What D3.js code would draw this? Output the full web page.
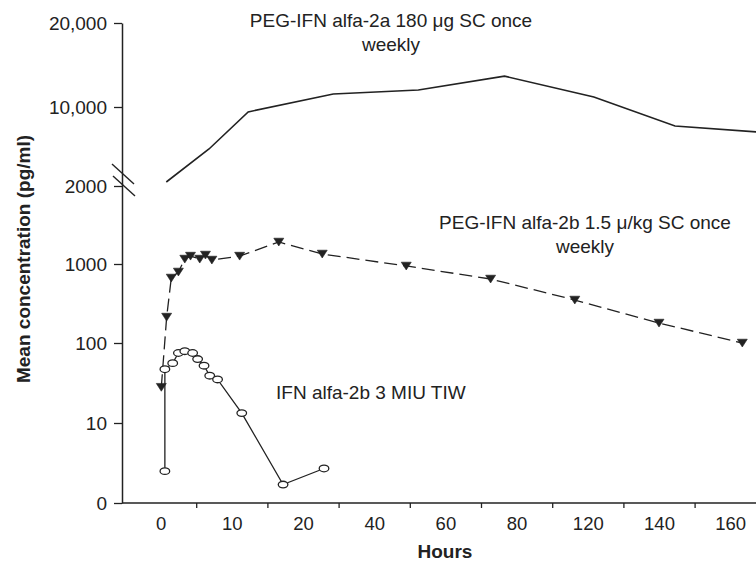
<!DOCTYPE html>
<html>
<head>
<meta charset="utf-8">
<script src="https://cdn.jsdelivr.net/npm/d3@7"></script>
<style>
body { margin: 0; background: #fff; }
text { font-family: "Liberation Sans", Arial, sans-serif; fill: #222; }
</style>
</head>
<body>
<script>
WIDTH = 756;
HEIGHT = 561;
INK = "#222";
AXIS_X = 122;
AXIS_Y = 503;

// x axis labels (evenly spaced, as printed)
var xTickHours = [0, 10, 20, 40, 60, 80, 120, 140, 160];

// broken log y axis
var yTickValues = [1, 10, 100, 1000, 2000, 10000, 20000];
var yTickLabels = ["0", "10", "100", "1000", "2000", "10,000", "20,000"];
var yTickPos = [503, 423, 343, 264, 186, 107, 23];

// PEG-IFN alfa-2a 180 µg SC once weekly
var peg2aHours = [0.8, 6.8, 12.3, 28.5, 52.4, 76.6, 121.7, 144.5, 168];
var peg2aConc  = [2170, 4250, 9050, 11130, 11500, 12900, 10860, 6790, 6000];

// PEG-IFN alfa-2b 1.5 µ/kg SC once weekly
var peg2bHours = [0.1, 0.85, 1.5, 2.5, 3.4, 4.2, 5.5, 6.3, 7.2, 11.1, 16.6, 25.4, 49, 72.7, 112.7, 140, 163.4];
var peg2bConc  = [28, 213, 665, 793, 1045, 1073, 1045, 1083, 1036, 1073, 1216, 1093, 944, 646, 350, 179, 100];

// IFN alfa-2b 3 MIU TIW
var ifnHours = [0.6, 0.6, 1.7, 2.5, 3.4, 4.5, 5.2, 6.1, 6.9, 8.0, 11.4, 17.2, 25.9];
var ifnConc  = [2.5, 47, 56, 75, 79, 75, 63, 52, 39, 35, 13.3, 1.7, 2.7];

var svg = d3.select("body").append("svg")
    .attr("width", WIDTH)
    .attr("height", HEIGHT);

var xBand = d3.scaleBand()
    .domain(xTickHours)
    .range([125, 125 + 71.2 * xTickHours.length]);

// piecewise scale so each printed label sits at its hour
var x = d3.scaleLinear()
    .domain(xTickHours)
    .range(xTickHours.map(h => xBand(h) + xBand.bandwidth() / 2));

var y = d3.scaleLog()
    .domain(yTickValues)
    .range(yTickPos);

// x axis
svg.append("line")
    .attr("x1", AXIS_X).attr("x2", WIDTH)
    .attr("y1", AXIS_Y).attr("y2", AXIS_Y)
    .attr("stroke", INK).attr("stroke-width", 1.5);

svg.append("g")
    .attr("transform", `translate(0,${AXIS_Y})`)
    .call(d3.axisBottom(x)
        .tickValues(d3.pairs(xTickHours, (a, b) => (a + b) / 2))
        .tickSize(5)
        .tickFormat(""))
    .call(g => g.select(".domain").remove())
    .call(g => g.selectAll("line").attr("stroke", INK).attr("stroke-width", 1.3));

svg.append("g")
    .attr("transform", `translate(0,${AXIS_Y})`)
    .call(d3.axisBottom(x).tickValues(xTickHours).tickSize(0).tickPadding(0))
    .call(g => g.select(".domain").remove())
    .call(g => g.selectAll("text")
        .attr("dy", null)
        .attr("y", 27)
        .attr("font-size", 18.5)
        .attr("font-family", "Liberation Sans, Arial, sans-serif")
        .attr("fill", INK));

// y axis
svg.append("g")
    .attr("transform", `translate(${AXIS_X},0)`)
    .call(d3.axisLeft(y)
        .tickValues(yTickValues)
        .tickFormat((d, i) => yTickLabels[i])
        .tickSize(8)
        .tickSizeOuter(0)
        .tickPadding(7))
    .call(g => g.select(".domain").attr("stroke", INK).attr("stroke-width", 1.5))
    .call(g => g.selectAll(".tick line").attr("stroke", INK).attr("stroke-width", 1.3))
    .call(g => g.selectAll("text")
        .attr("font-size", 19)
        .attr("font-family", "Liberation Sans, Arial, sans-serif")
        .attr("fill", INK));

// axis break marks
var brk = y(2000);
[[-10, -22, 12, -2], [-9, -10, 13, 10]].forEach(function(s) {
    svg.append("line")
        .attr("x1", AXIS_X + s[0]).attr("y1", brk + s[1])
        .attr("x2", AXIS_X + s[2]).attr("y2", brk + s[3])
        .attr("stroke", INK).attr("stroke-width", 1.4);
});

var line = d3.line()
    .x(d => x(d[0]))
    .y(d => y(d[1]));

var peg2a = d3.zip(peg2aHours, peg2aConc);
var peg2b = d3.zip(peg2bHours, peg2bConc);
var ifn = d3.zip(ifnHours, ifnConc);

svg.append("path")
    .datum(peg2a)
    .attr("d", line)
    .attr("fill", "none")
    .attr("stroke", INK)
    .attr("stroke-width", 1.6);

svg.append("path")
    .datum(peg2b)
    .attr("d", line)
    .attr("fill", "none")
    .attr("stroke", INK)
    .attr("stroke-width", 1.3)
    .attr("stroke-dasharray", "13,6");

svg.append("path")
    .datum(ifn)
    .attr("d", line)
    .attr("fill", "none")
    .attr("stroke", INK)
    .attr("stroke-width", 1.3);

svg.selectAll(".tri")
    .data(peg2b)
    .enter().append("path")
    .attr("class", "tri")
    .attr("transform", d => `translate(${x(d[0])},${y(d[1])})`)
    .attr("d", "M-5,-3.8L5,-3.8L0,4Z")
    .attr("fill", INK)
    .attr("stroke", INK)
    .attr("stroke-width", 0.6);

svg.selectAll(".circ")
    .data(ifn)
    .enter().append("ellipse")
    .attr("class", "circ")
    .attr("cx", d => x(d[0]))
    .attr("cy", d => y(d[1]))
    .attr("rx", 4.8)
    .attr("ry", 3.3)
    .attr("fill", "#fff")
    .attr("stroke", INK)
    .attr("stroke-width", 1.3);

// annotations
function label(lines, cx, y0, anchor) {
    var t = svg.append("text")
        .attr("font-size", 19)
        .attr("text-anchor", anchor);
    lines.forEach(function(s, i) {
        t.append("tspan").attr("x", cx).attr("y", y0 + i * 24).text(s);
    });
}

label(["PEG-IFN alfa-2a 180 \u03bcg SC once", "weekly"], 391, 27, "middle");
label(["PEG-IFN alfa-2b 1.5 \u03bc/kg SC once", "weekly"], 585, 229, "middle");
label(["IFN alfa-2b 3 MIU TIW"], 276, 399, "start");

svg.append("text")
    .attr("transform", "translate(30,259) rotate(-90)")
    .attr("text-anchor", "middle")
    .attr("font-size", 19)
    .attr("font-weight", "bold")
    .text("Mean concentration (pg/ml)");

svg.append("text")
    .attr("x", 445)
    .attr("y", 558)
    .attr("text-anchor", "middle")
    .attr("font-size", 19)
    .attr("font-weight", "bold")
    .text("Hours");
</script>
</body>
</html>
